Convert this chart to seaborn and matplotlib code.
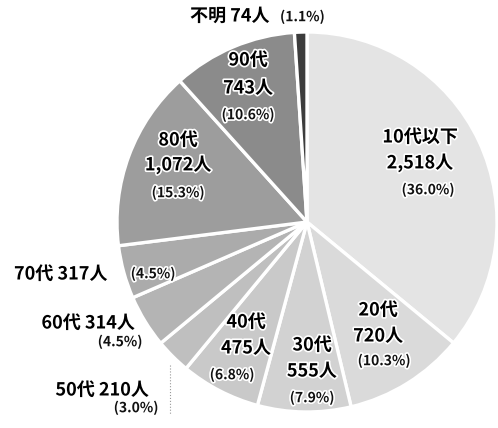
import matplotlib
matplotlib.use("Agg")
import matplotlib.pyplot as plt
import matplotlib.patheffects as pe
import seaborn as sns

# ---- data ----
categories = ["10代以下", "20代", "30代", "40代", "50代", "60代", "70代", "80代", "90代", "不明"]
counts = [2518, 720, 555, 475, 210, 314, 317, 1072, 743, 74]
count_labels = ["2,518人", "720人", "555人", "475人", "210人", "314人", "317人", "1,072人", "743人", "74人"]
pct_labels = ["(36.0%)", "(10.3%)", "(7.9%)", "(6.8%)", "(3.0%)", "(4.5%)", "(4.5%)", "(15.3%)", "(10.6%)", "(1.1%)"]

gray_levels = ["#e4e4e4", "#dadada", "#d2d2d2", "#c9c9c9", "#bfbfbf",
               "#b4b4b4", "#ababab", "#9d9d9d", "#8b8b8b", "#3c3c3c"]

sns.set_theme(style="white")
plt.rcParams["font.family"] = ["Noto Sans CJK JP", "DejaVu Sans"]

W, H = 498, 428
fig = plt.figure(figsize=(W / 100, H / 100), dpi=100)
ax = fig.add_axes([0, 0, 1, 1])

cx, cy, r = 307, H - 222, 190
palette = sns.color_palette(gray_levels)
ax.pie(counts, colors=palette, startangle=90, counterclock=False,
       center=(cx, cy), radius=r, frame=True,
       wedgeprops=dict(edgecolor="white", linewidth=2.4))
ax.set_xlim(0, W)
ax.set_ylim(0, H)
ax.set_aspect("equal")
ax.axis("off")

halo = [pe.withStroke(linewidth=2.4, foreground="white")]
big = dict(fontsize=13, fontweight="bold", color="#000000", path_effects=halo)
small = dict(fontsize=10, fontweight="bold", color="#111111", path_effects=halo)

def T(x, y, s, style, ha="center"):
    ax.text(x, H - y, s, ha=ha, va="center", **style)

# 10代以下
T(420, 137, categories[0], big)
T(420, 163, count_labels[0], big)
T(428, 190, pct_labels[0], small)
# 20代
T(378, 310, categories[1], big)
T(378, 336, count_labels[1], big)
T(384, 361, pct_labels[1], small)
# 30代
T(312, 345, categories[2], big)
T(312, 371, count_labels[2], big)
T(312, 398, pct_labels[2], small)
# 40代
T(246, 322, categories[3], big)
T(246, 348, count_labels[3], big)
T(232, 375, pct_labels[3], small)
# 50代
T(102, 390, categories[4] + " " + count_labels[4], big)
T(136, 408, pct_labels[4], small)
# 60代
T(88, 323, categories[5] + " " + count_labels[5], big)
T(120, 342, pct_labels[5], small)
# 70代
T(14, 274, categories[6] + " " + count_labels[6], big, ha="left")
T(153, 274, pct_labels[6], small)
# 80代
T(178, 140, categories[7], big)
T(178, 165, count_labels[7], big)
T(178, 193, pct_labels[7], small)
# 90代
T(248, 60, categories[8], big)
T(248, 88, count_labels[8], big)
T(248, 115, pct_labels[8], small)
# 不明
T(190, 16, categories[9] + " " + count_labels[9], big, ha="left")
T(280, 17, pct_labels[9], small, ha="left")

# faint leader line near 50代
ax.plot([170, 170], [H - 365, H - 414], color="#999999", lw=0.8, ls=":")

fig.savefig("out.png", dpi=100, facecolor="white")
